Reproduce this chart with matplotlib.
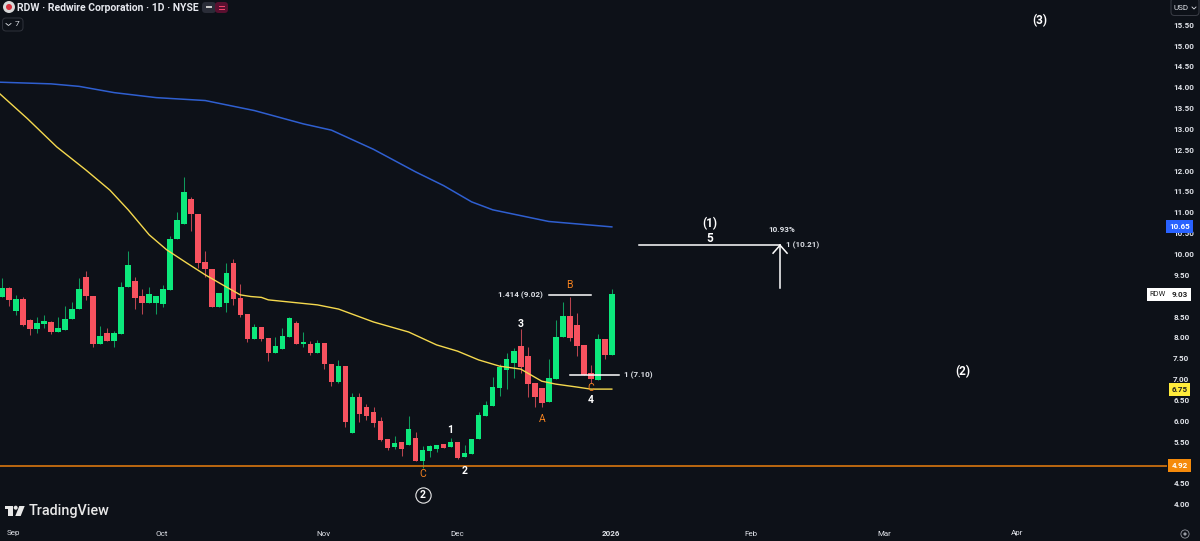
import matplotlib
matplotlib.use('Agg')
import matplotlib.pyplot as plt
from matplotlib.patches import Circle, FancyBboxPatch, Polygon, Rectangle
from matplotlib.transforms import IdentityTransform

plt.rcParams['font.family'] = ['Roboto', 'DejaVu Sans']

# daily candles, Sep 2025 to Jan 2 2026
opens = [8.97, 9.19, 8.63, 8.91, 8.41, 8.19, 8.31, 8.38, 8.14, 8.18,
         8.43, 8.67, 9.45, 8.99, 7.84, 8.10, 7.92, 8.08, 9.20, 9.35,
         9.00, 8.82, 8.82, 8.79, 9.14, 10.35, 10.72, 11.31, 10.97, 9.82,
         9.64, 8.72, 8.83, 9.79, 8.94, 8.56, 7.96, 8.25, 7.98, 7.63,
         7.72, 8.00, 8.35, 7.83, 7.85, 7.63, 7.87, 7.37, 6.93, 7.31,
         5.70, 6.56, 6.34, 6.21, 5.99, 5.56, 5.37, 5.48, 5.41, 5.59,
         5.04, 5.28, 5.33, 5.44, 5.36, 5.50, 5.12, 5.20, 5.56, 6.12,
         6.36, 6.79, 7.22, 7.39, 7.79, 7.55, 6.90, 6.78, 6.44, 7.01,
         8.00, 8.52, 8.30, 7.82, 7.15, 6.99, 7.96, 7.58]
highs = [9.43, 9.21, 9.01, 8.97, 8.43, 8.49, 8.53, 8.39, 8.49, 8.75,
         8.85, 9.43, 9.59, 8.99, 8.28, 8.23, 8.15, 9.33, 10.06, 9.45,
         9.17, 9.21, 8.99, 9.25, 10.43, 11.00, 11.85, 11.37, 10.97, 10.07,
         9.64, 9.06, 9.79, 9.89, 9.29, 8.56, 8.32, 8.25, 7.98, 8.02,
         8.22, 8.50, 8.39, 8.14, 7.92, 7.94, 7.87, 7.37, 7.45, 7.31,
         6.66, 6.66, 6.40, 6.34, 6.10, 5.56, 5.64, 5.50, 6.11, 5.74,
         5.40, 5.42, 5.43, 5.44, 5.58, 5.50, 5.42, 5.56, 6.22, 6.48,
         7.04, 7.36, 7.62, 7.74, 8.20, 7.76, 6.90, 6.78, 7.48, 8.42,
         8.84, 8.96, 8.58, 7.82, 7.34, 8.08, 7.96, 9.16]
lows = [8.97, 8.75, 8.53, 8.28, 8.06, 8.11, 8.23, 8.09, 8.14, 8.18,
        8.43, 8.67, 8.89, 7.77, 7.84, 7.91, 7.77, 8.08, 9.20, 8.67,
        8.57, 8.82, 8.57, 8.73, 9.14, 10.35, 10.72, 10.55, 9.67, 9.45,
        8.72, 8.72, 8.61, 8.77, 8.49, 7.90, 7.96, 7.92, 7.44, 7.63,
        7.72, 8.00, 7.84, 7.76, 7.58, 7.63, 7.24, 6.84, 6.90, 5.86,
        5.70, 5.98, 6.02, 5.86, 5.52, 5.30, 5.32, 5.16, 5.41, 5.04,
        4.88, 5.14, 5.24, 5.35, 5.36, 5.09, 5.12, 5.20, 5.56, 6.12,
        6.36, 6.60, 6.76, 7.02, 7.14, 6.58, 6.32, 6.34, 6.44, 7.01,
        8.00, 7.92, 7.56, 7.11, 6.90, 6.99, 7.48, 7.58]
closes = [9.19, 8.89, 8.91, 8.30, 8.19, 8.34, 8.39, 8.14, 8.22, 8.45,
          8.69, 9.15, 8.99, 7.83, 8.03, 7.91, 8.10, 9.22, 9.74, 8.95,
          8.82, 9.03, 8.99, 9.15, 10.35, 10.81, 11.48, 10.96, 9.78, 9.63,
          8.72, 9.06, 9.54, 8.93, 8.53, 7.96, 8.25, 7.96, 7.63, 7.80,
          8.03, 8.47, 7.84, 7.89, 7.62, 7.87, 7.37, 6.94, 7.32, 5.96,
          6.56, 6.16, 6.12, 5.95, 5.54, 5.35, 5.47, 5.32, 5.81, 5.04,
          5.30, 5.40, 5.41, 5.35, 5.50, 5.11, 5.22, 5.56, 6.14, 6.38,
          6.81, 7.29, 7.48, 7.68, 7.28, 6.88, 6.56, 6.42, 7.02, 8.01,
          8.52, 7.99, 7.80, 7.11, 7.00, 7.95, 7.58, 9.03]

# moving averages, read at the bends of each curve
blue_idx = [-0.3, 7, 11, 16, 22, 29, 36, 43, 47, 53, 59, 63, 67, 70, 78, 87]
blue_val = [14.12, 14.08, 14.02, 13.87, 13.75, 13.68, 13.44, 13.12, 12.97,
            12.51, 11.97, 11.64, 11.25, 11.06, 10.78, 10.65]
yellow_idx = [-0.3, 3.6, 7.8, 12, 15.4, 18, 21, 23.5, 26.4, 29, 32, 34, 35.5,
              37, 38, 45, 48, 53, 58, 62, 65, 68, 71, 74, 77, 79, 82, 84, 87]
yellow_val = [13.84, 13.25, 12.57, 12.01, 11.53, 11.06, 10.46, 10.10, 9.78,
              9.50, 9.21, 9.02, 8.98, 8.96, 8.90, 8.78, 8.68, 8.37, 8.13,
              7.82, 7.67, 7.46, 7.31, 7.24, 6.95, 6.88, 6.81, 6.76, 6.76]

price_ticks = [4 + 0.5 * i for i in range(24)]
month_labels = ['Sep', 'Oct', 'Nov', 'Dec', '2026', 'Feb', 'Mar', 'Apr']
month_pos = [1.7, 22.8, 45.8, 64.9, 86.9, 106.8, 125.9, 144.8]

support_price = 4.92

# wave labels: text, bar index, price, colour, size, weight
labels = [
    ('(1)', 101, 10.72, '#ffffff', 8.5, 'bold'),
    ('5', 101, 10.38, '#ffffff', 8.5, 'bold'),
    ('(2)', 137, 7.17, '#ffffff', 8.5, 'bold'),
    ('(3)', 148, 15.61, '#ffffff', 8.5, 'bold'),
    ('B', 81, 9.26, '#f5821f', 7.5, 'normal'),
    ('3', 74, 8.32, '#ffffff', 7.5, 'bold'),
    ('A', 77, 6.04, '#f5821f', 7.5, 'normal'),
    ('C', 84, 6.79, '#f5821f', 7.5, 'normal'),
    ('4', 84, 6.50, '#ffffff', 7.5, 'bold'),
    ('1', 64, 5.78, '#ffffff', 7.5, 'bold'),
    ('2', 66, 4.80, '#ffffff', 7.5, 'bold'),
    ('C', 60, 4.72, '#f5821f', 7.5, 'normal'),
    ('2', 60, 4.22, '#ffffff', 7.5, 'bold'),
]

bg = '#0d1118'
up = '#0ce97c'
down = '#f7525f'
text_col = '#dfe2e8'

fig = plt.figure(figsize=(12, 5.41), dpi=100, facecolor=bg)
ax = fig.add_axes([0, 23 / 541, 1167 / 1200, 518 / 541], facecolor=bg)
ax.set_xlim(-0.285, 166.2)
ax.set_ylim(10 - 264 / 41.7, 10 + 254 / 41.7)
for s in ax.spines.values():
    s.set_visible(False)

# candles
idx = list(range(len(closes)))
colors = [up if c >= o else down for o, c in zip(opens, closes)]
wick_colors = ['#0f9a5c' if c >= o else '#b8444f' for o, c in zip(opens, closes)]
ax.vlines(idx, lows, highs, colors=wick_colors, linewidth=0.75, zorder=2)
ax.bar(idx, [abs(c - o) for o, c in zip(opens, closes)],
       bottom=[min(o, c) for o, c in zip(opens, closes)],
       width=0.8, color=colors, linewidth=0, zorder=3)

# averages and support line
ax.plot(blue_idx, blue_val, color='#2f5fd0', lw=1.1, zorder=4)
ax.plot(yellow_idx, yellow_val, color='#f5d94e', lw=1.0, zorder=4)
ax.axhline(support_price, color='#d9770f', lw=1.2, zorder=4)

# axes, the 9.00 label sits behind the RDW tag in the original
ax.yaxis.tick_right()
ax.set_yticks(price_ticks)
ax.set_yticklabels(['' if p == 9 else f'{p:.2f}' for p in price_ticks],
                   fontsize=5.8, color=text_col, fontweight='bold')
ax.tick_params(axis='y', length=0, pad=4.5)
ax.set_xticks(month_pos)
ax.set_xticklabels(month_labels, fontsize=5.8, color=text_col)
ax.tick_params(axis='x', length=0, pad=9)
ax.get_xticklabels()[4].set_fontweight('bold')

# drawn levels
ax.plot([90.9, 111], [10.21, 10.21], color='white', lw=1.1, zorder=5)
ax.plot([111, 111], [9.18, 10.21], color='white', lw=1.1, zorder=5)
ax.plot([110, 111, 112], [10.02, 10.21, 10.02], color='white', lw=1.1, zorder=5)
ax.plot([78, 84], [9.02, 9.02], color='white', lw=1.1, zorder=5)
ax.plot([81, 88], [7.10, 7.10], color='white', lw=1.1, zorder=5)
ax.text(111.3, 10.58, '10.93%', color=text_col, fontsize=5.8, fontweight='bold', ha='center', va='center')
ax.text(111.8, 10.21, '1 (10.21)', color=text_col, fontsize=5.8, fontweight='bold', ha='left', va='center')
ax.text(77.2, 9.02, '1.414 (9.02)', color=text_col, fontsize=5.8, fontweight='bold', ha='right', va='center')
ax.text(88.7, 7.10, '1 (7.10)', color=text_col, fontsize=5.8, fontweight='bold', ha='left', va='center')

for txt, x, y, col, size, weight in labels:
    ax.text(x, y, txt, color=col, fontsize=size, fontweight=weight, ha='center', va='center', zorder=6)
ax.plot([60], [4.22], marker='o', ms=11, mfc='none', mec='#e8e8e8', mew=0.8, zorder=6)

# price tags on the axis
yt = ax.get_yaxis_transform()
tags = [('10.65', 10.65, '#2962ff', 'white'), ('9.03', 9.03, 'white', '#222222'),
        ('6.75', 6.75, '#ffeb3b', '#222222'), ('4.92', 4.92, '#f58a0b', 'white')]
for txt, p, fc, tc in tags:
    ax.text(1179.5 / 1167, p, txt, transform=yt, color=tc, fontsize=5.8, fontweight='bold', ha='center', va='center',
            clip_on=False, zorder=10, bbox=dict(boxstyle='square,pad=0.36', fc=fc, ec='none'))
ax.text(1157.5 / 1167, 9.03, 'RDW', transform=yt, color='#222222', fontsize=5.4, ha='center', va='center',
        clip_on=False, zorder=10, bbox=dict(boxstyle='square,pad=0.36', fc='white', ec='none'))


# screen furniture, placed in figure pixels
def px(x, y):
    return x / 1200, 1 - y / 541


def add(patch):
    patch.set_transform(fig.transFigure)
    fig.add_artist(patch)


def box(x0, y0, x1, y1, **kw):
    fig.add_artist(FancyBboxPatch(px(x0, y1), (x1 - x0) / 1200, (y1 - y0) / 541, transform=fig.transFigure,
                                  boxstyle='round,pad=0,rounding_size=0.003', mutation_aspect=2.2, **kw))


def dot(x, y, r, col):
    fig.add_artist(Circle((x, 541 - y), r, fc=col, ec='none', transform=IdentityTransform()))


fig.text(*px(17, 8), 'RDW · Redwire Corporation · 1D · NYSE', color='#e6e8ee', fontsize=7.5,
         fontweight='bold', va='center')
dot(9, 7, 6, '#d8d8d8')
dot(9, 7, 3, '#d8323f')

box(202, 2, 216, 13, fc='#2a2d38', ec='none')
box(215, 2, 228, 13, fc='#5a1030', ec='none')
add(Rectangle(px(206, 8), 6 / 1200, 1.6 / 541, fc='#c8c8c8', ec='none'))
add(Rectangle(px(218.5, 7), 6 / 1200, 1 / 541, fc='#f0436a', ec='none'))
add(Rectangle(px(218.5, 10), 6 / 1200, 1 / 541, fc='#f0436a', ec='none'))

box(2.5, 18, 23, 31, fc=bg, ec='#30333c', lw=0.7)
fig.text(*px(17.5, 24.5), '7', color=text_col, fontsize=6, ha='center', va='center')
fig.add_artist(plt.Line2D([6 / 1200, 8.5 / 1200, 11 / 1200], [1 - 23.5 / 541, 1 - 25.5 / 541, 1 - 23.5 / 541],
                          color=text_col, lw=0.6, transform=fig.transFigure))

box(1171, -2, 1199, 15.5, fc=bg, ec='#3a3d46', lw=0.7)
fig.text(*px(1173.5, 7.5), 'USD', color=text_col, fontsize=5.8, va='center')
fig.add_artist(plt.Line2D([1192 / 1200, 1194 / 1200, 1196 / 1200], [1 - 7 / 541, 1 - 9 / 541, 1 - 7 / 541],
                          color=text_col, lw=0.6, transform=fig.transFigure))

# TradingView watermark
logo_parts = [
    [(4.7, 506), (12.7, 506), (12.7, 516), (8, 516), (8, 509), (4.7, 509)],
    [(19.3, 506), (24.7, 506), (20.7, 516), (15.3, 516)],
]
for part in logo_parts:
    add(Polygon([px(*p) for p in part], closed=True, fc='#e8e8e8', ec='none'))
dot(15.7, 507.7, 2, '#e8e8e8')
fig.text(*px(29, 510.5), 'TradingView', color='#e8e8e8', fontsize=10.4, fontweight='medium', va='center')

# settings gear
dot(1185, 534, 4.5, '#9a9da6')
dot(1185, 534, 3.7, bg)
dot(1185, 534, 1.6, '#9a9da6')

fig.savefig('out.png', dpi=100, facecolor=bg)
